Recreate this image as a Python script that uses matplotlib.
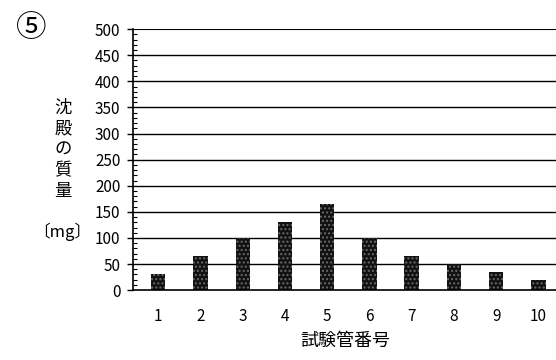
"""
Precipitate mass per test tube (chart 5)
"""

import numpy as np
import matplotlib
matplotlib.use("Agg")
import matplotlib.pyplot as plt
from matplotlib.ticker import MultipleLocator

plt.rcParams['font.family'] = ['Noto Sans CJK JP', 'DejaVu Sans']

tubes = [1, 2, 3, 4, 5, 6, 7, 8, 9, 10]
mass_mg = [30, 65, 100, 130, 165, 100, 65, 50, 35, 20]
y_ticks = [0, 50, 100, 150, 200, 250, 300, 350, 400, 450, 500]


def plot_chart(outfile):
    fig = plt.figure(figsize=(5.56, 3.6), dpi=100)
    ax = fig.add_axes([0.239, 0.194, 0.765, 0.725])

    # grid lines every 50 mg
    for v in y_ticks[1:]:
        ax.axhline(v, color='black', lw=1.5 if v == 500 else 1.0, zorder=1)

    ax.bar(tubes, mass_mg, width=0.34, color='#111111', zorder=2)
    ax.bar(tubes, mass_mg, width=0.34, facecolor='none', edgecolor='#6a6a6a',
           hatch='....', linewidth=0, zorder=3)

    ax.set_xlim(0.4, 10.47)
    ax.set_ylim(0, 500)
    ax.set_xticks(tubes)
    ax.set_yticks(y_ticks)
    ax.yaxis.set_minor_locator(MultipleLocator(10))

    for side in ['top', 'right']:
        ax.spines[side].set_visible(False)
    ax.spines['left'].set_linewidth(1.2)
    ax.spines['bottom'].set_linewidth(1.2)

    ax.tick_params(axis='y', which='major', direction='out', length=4,
                   width=1, labelsize=11, pad=5)
    ax.tick_params(axis='y', which='minor', direction='in', length=3, width=0.8)
    ax.tick_params(axis='x', length=0, labelsize=11, pad=13)

    ax.set_xlabel('試験管番号', fontsize=13, labelpad=5)

    # vertical y label
    fig.text(0.113, 0.585, '沈\n殿\nの\n質\n量', fontsize=12.5, ha='center',
             va='center', linespacing=1.2)
    fig.text(0.165, 0.356, '〔mg〕', fontsize=12, ha='right', va='center')

    fig.text(0.056, 0.92, '⑤', fontsize=22, ha='center', va='center')

    fig.savefig(outfile, dpi=100)


if __name__ == "__main__":
    plot_chart('out.png')
